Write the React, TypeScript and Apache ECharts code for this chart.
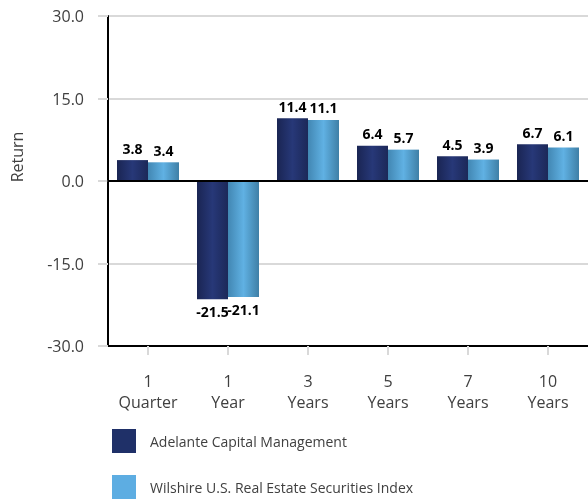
import React, { useEffect, useRef } from "react";
import * as echarts from "echarts";

const categories = ["1\nQuarter", "1\nYear", "3\nYears", "5\nYears", "7\nYears", "10\nYears"];
const adelante = [3.8, -21.5, 11.4, 6.4, 4.5, 6.7];
const wilshire = [3.4, -21.1, 11.1, 5.7, 3.9, 6.1];
const seriesNames = ["Adelante Capital Management", "Wilshire U.S. Real Estate Securities Index"];
const yTicks = { min: -30, max: 30, interval: 15 };

const darkGrad = new echarts.graphic.LinearGradient(0, 0, 1, 0, [
  { offset: 0, color: "#1a2553" },
  { offset: 0.5, color: "#273878" },
  { offset: 1, color: "#1c2858" },
]);
const lightGrad = new echarts.graphic.LinearGradient(0, 0, 1, 0, [
  { offset: 0, color: "#4287b3" },
  { offset: 0.5, color: "#60b1e3" },
  { offset: 1, color: "#3f7fa6" },
]);

const toData = (arr: number[]) =>
  arr.map((v) => ({ value: v, label: { position: v < 0 ? "bottom" : "top" } }));

export default function App() {
  const ref = useRef<HTMLDivElement>(null);
  useEffect(() => {
    if (!ref.current) return;
    const chart = echarts.init(ref.current, null, { renderer: "svg" });
    const labelStyle = {
      show: true,
      formatter: (p: any) => Number(p.value).toFixed(1),
      fontFamily: "Open Sans",
      fontWeight: "bold" as const,
      fontSize: 14,
      color: "#000",
      distance: 5,
    };
    chart.setOption({
      animation: false,
      grid: { left: 108, top: 16, width: 492, height: 330 },
      legend: {
        orient: "vertical",
        left: 112,
        top: 429,
        height: 150,
        padding: 0,
        itemWidth: 24,
        itemHeight: 24,
        itemGap: 22,
        icon: "rect",
        textStyle: { fontFamily: "Open Sans", fontSize: 14, color: "#404040", padding: [3, 0, 0, 9] },
        data: [
          { name: seriesNames[0], itemStyle: { color: "#1f3068" } },
          { name: seriesNames[1], itemStyle: { color: "#5dade2" } },
        ],
      },
      graphic: [
        {
          type: "text",
          x: 9,
          y: 157,
          rotation: Math.PI / 2,
          style: {
            text: "Return",
            fontFamily: "Open Sans",
            fontSize: 16,
            fill: "#404040",
            align: "center",
            verticalAlign: "top",
          },
        },
      ],
      xAxis: [
        {
          type: "category",
          data: categories,
          axisLine: { onZero: true, lineStyle: { color: "#000", width: 2 } },
          axisTick: { show: false },
          axisLabel: { show: false },
          z: 10,
        },
        {
          type: "category",
          data: categories,
          position: "bottom",
          axisLine: { onZero: false, lineStyle: { color: "#000", width: 2 } },
          axisTick: { show: true, alignWithLabel: true, length: 9, lineStyle: { color: "#d9d9d9", width: 2 } },
          axisLabel: {
            fontFamily: "Open Sans",
            fontSize: 16,
            color: "#404040",
            lineHeight: 21,
            margin: 24,
            interval: 0,
          },
        },
      ],
      yAxis: {
        type: "value",
        min: yTicks.min,
        max: yTicks.max,
        interval: yTicks.interval,
        axisLine: { show: true, lineStyle: { color: "#000", width: 2 } },
        axisTick: { show: true, length: 10, lineStyle: { color: "#d9d9d9", width: 2 } },
        splitLine: { show: true, lineStyle: { color: "#d9d9d9", width: 2 } },
        axisLabel: {
          formatter: (v: number) => v.toFixed(1),
          fontFamily: "Open Sans",
          fontSize: 16,
          color: "#404040",
          margin: 24,
        },
      },
      series: [
        {
          name: seriesNames[0],
          type: "bar",
          xAxisIndex: 0,
          data: toData(adelante),
          barWidth: 31,
          barGap: "0%",
          itemStyle: { color: darkGrad },
          label: labelStyle,
        },
        {
          name: seriesNames[1],
          type: "bar",
          xAxisIndex: 0,
          data: toData(wilshire),
          barWidth: 31,
          barGap: "0%",
          itemStyle: { color: lightGrad },
          label: labelStyle,
        },
      ],
    });
    return () => chart.dispose();
  }, []);
  return (
    <div
      ref={ref}
      style={{ position: "fixed", left: 0, top: 0, width: 588, height: 501 }}
    />
  );
}
